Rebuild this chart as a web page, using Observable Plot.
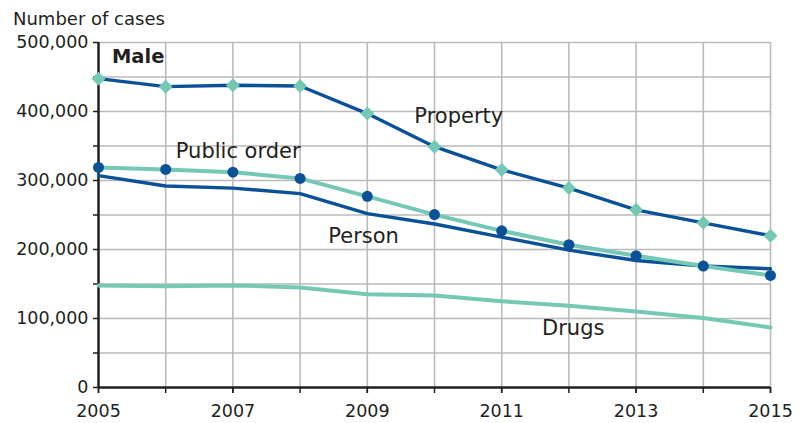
<!DOCTYPE html>
<html><head><meta charset="utf-8">
<script src="https://cdn.jsdelivr.net/npm/d3@7"></script>
<script src="https://cdn.jsdelivr.net/npm/@observablehq/plot@0.6"></script>
<style>
body{margin:0;background:#fff;font-family:"DejaVu Sans",sans-serif;}
#title{height:22px;line-height:22px;padding-top:8px;padding-left:13px;font-size:18px;color:#231f20;}
</style></head><body>
<div id="title">Number of cases</div>
<div id="chart"></div>
<script>
const years = [2005,2006,2007,2008,2009,2010,2011,2012,2013,2014,2015];
const property    = [447600,436000,438000,437000,397000,349000,315500,289000,257500,238600,220000];
const publicOrder = [319000,316000,312000,303000,277000,250600,227000,207000,191000,176000,162500];
const person      = [307000,292000,289000,281000,252000,237000,218000,199000,184000,176000,172000];
const drugs       = [148000,146600,148000,145000,135000,133500,125000,118600,110000,100700,87000];

const xLabelYears = [2005,2007,2009,2011,2013,2015];
const yLabelTicks = [0,100000,200000,300000,400000,500000];
const yMinorTicks = [50000,150000,250000,350000,450000];
const yGridTicks  = [50000,100000,150000,200000,250000,300000,350000,400000,450000,500000];

const labelText  = ["Male","Property","Public order","Person","Drugs"];
const labelYear  = [2005.2,2009.7,2006.15,2008.42,2011.6];
const labelValue = [470000,383000,332000,209000,76500];

const darkBlue = "#0a5198", teal = "#74c8b5", grid = "#bababa", ink = "#231f20";

const toRows = (vals) => years.map((y, i) => ({year: y, value: vals[i]}));
const labels = labelText.map((t, i) => ({text: t, year: labelYear[i], value: labelValue[i], bold: t === "Male"}));

const chart = Plot.plot({
  width: 806, height: 393,
  marginTop: 12, marginBottom: 36, marginLeft: 98, marginRight: 36,
  style: {fontFamily: "DejaVu Sans", fontSize: "17.5px", color: ink, background: "white", overflow: "visible"},
  x: {domain: [2005, 2015]},
  y: {domain: [0, 500000]},
  marks: [
    Plot.gridX(years.slice(1), {stroke: grid, strokeOpacity: 1, strokeWidth: 1.6}),
    Plot.gridY(yGridTicks, {stroke: grid, strokeOpacity: 1, strokeWidth: 1.6}),
    Plot.axisY(yMinorTicks, {tickFormat: () => "", tickSize: 5, label: null, stroke: ink, strokeWidth: 1.5}),
    Plot.axisY(yLabelTicks, {tickFormat: d3.format(","), tickSize: 5, tickPadding: 5, label: null, stroke: ink, strokeWidth: 1.5, fill: ink, fontSize: 17.5}),
    Plot.axisX(years, {tickFormat: () => "", tickSize: 6, label: null, stroke: ink, strokeWidth: 1.5}),
    Plot.axisX(xLabelYears, {tickFormat: d => String(d), tickSize: 6, tickPadding: 11, label: null, stroke: ink, strokeWidth: 1.5, fill: ink, fontSize: 17.5}),
    Plot.ruleY([0], {stroke: ink, strokeWidth: 2.5}),
    Plot.ruleX([2005], {stroke: ink, strokeWidth: 2.5}),
    Plot.lineY(toRows(drugs), {x: "year", y: "value", stroke: teal, strokeWidth: 4}),
    Plot.lineY(toRows(person), {x: "year", y: "value", stroke: darkBlue, strokeWidth: 3.4}),
    Plot.lineY(toRows(publicOrder), {x: "year", y: "value", stroke: teal, strokeWidth: 4}),
    Plot.dot(toRows(publicOrder), {x: "year", y: "value", r: 5.5, fill: darkBlue, stroke: "none"}),
    Plot.lineY(toRows(property), {x: "year", y: "value", stroke: darkBlue, strokeWidth: 3.4}),
    Plot.dot(toRows(property), {x: "year", y: "value", symbol: "diamond2", r: 6.3, fill: teal, stroke: "none"}),
    Plot.text(labels.filter(d => !d.bold), {x: "year", y: "value", text: "text", textAnchor: "start", lineAnchor: "bottom", fontSize: 21, fill: ink}),
    Plot.text(labels.filter(d => d.bold), {x: "year", y: "value", text: "text", textAnchor: "start", lineAnchor: "bottom", fontSize: 19.5, fontWeight: "bold", fill: ink})
  ]
});
document.getElementById("chart").appendChild(chart);
</script>
</body></html>
